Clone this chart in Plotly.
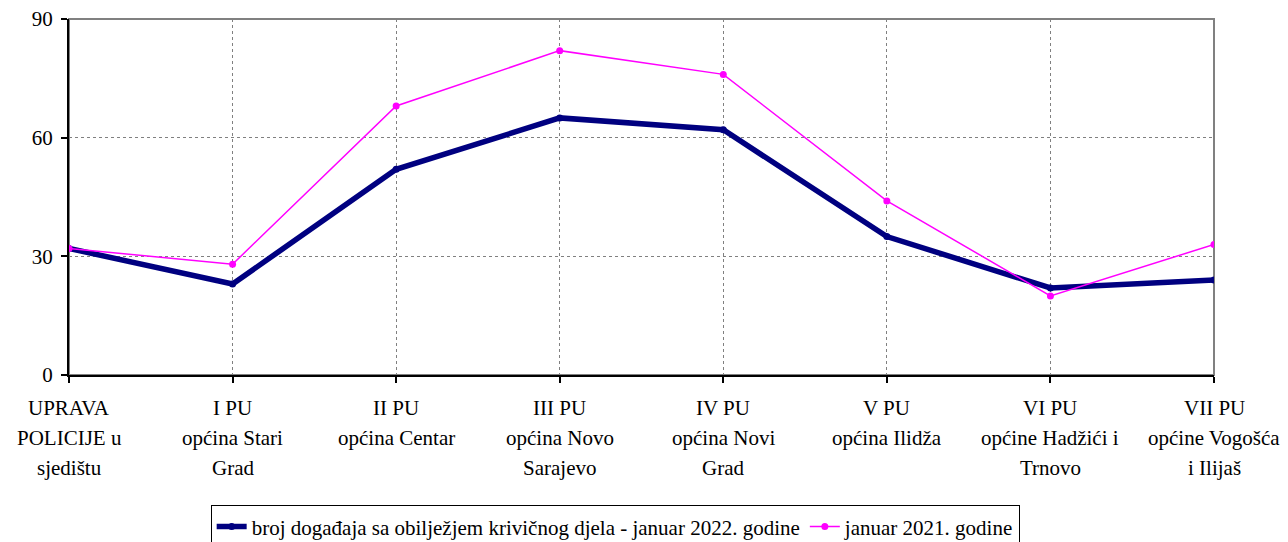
import plotly.graph_objects as go

category_lines = [
    "UPRAVA<br>POLICIJE u<br>sjedištu",
    "I PU<br>općina Stari<br>Grad",
    "II PU<br>općina Centar",
    "III PU<br>općina Novo<br>Sarajevo",
    "IV PU<br>općina Novi<br>Grad",
    "V PU<br>općina Ilidža",
    "VI PU<br>općine Hadžići i<br>Trnovo",
    "VII PU<br>općine Vogošća<br>i Ilijaš",
]
categories = [c.replace("<br>", " ") for c in category_lines]
series_2022 = [32, 23, 52, 65, 62, 35, 22, 24]
series_2021 = [32, 28, 68, 82, 76, 44, 20, 33]
name_2022 = "broj događaja sa obilježjem krivičnog djela - januar 2022. godine"
name_2021 = "januar 2021. godine"
y_ticks = [0, 30, 60, 90]

FONT = "Liberation Serif, Times New Roman, serif"

fig = go.Figure()
fig.add_trace(go.Scatter(
    x=categories, y=series_2022, name=name_2022, mode="lines+markers",
    line=dict(color="#000080", width=5.5), marker=dict(color="#000080", size=7),
))
fig.add_trace(go.Scatter(
    x=categories, y=series_2021, name=name_2021, mode="lines+markers",
    line=dict(color="#FF00FF", width=1.5), marker=dict(color="#FF00FF", size=7),
))

# gray frame (top/right)
fig.add_shape(type="rect", xref="paper", yref="paper", x0=0, x1=1, y0=0, y1=1,
              line=dict(color="#808080", width=2), layer="below")

# multi-line category labels
for cat, lines in zip(categories, category_lines):
    for i, txt in enumerate(lines.split("<br>")):
        fig.add_annotation(x=cat, xref="x", y=0, yref="paper", text=txt,
                           showarrow=False, yanchor="middle", xanchor="center",
                           yshift=-33 - 30 * i,
                           font=dict(family=FONT, size=21, color="black"))

fig.update_layout(
    width=1280, height=560,
    margin=dict(l=61, r=74, t=11, b=193),
    paper_bgcolor="white", plot_bgcolor="white",
    font=dict(family=FONT, size=21, color="black"),
    showlegend=True,
    legend=dict(orientation="h", x=0.477, xanchor="center", y=-0.366, yanchor="top",
                bordercolor="black", borderwidth=1, font=dict(family=FONT, size=21),
                tracegroupgap=0),
)
fig.update_xaxes(
    type="category", range=[0, 7], showticklabels=False, automargin=False,
    showgrid=True, gridcolor="#808080", griddash="dot", gridwidth=1,
    showline=True, linecolor="black", linewidth=2,
    ticks="outside", ticklen=6, tickcolor="black", tickwidth=2,
)
fig.update_yaxes(
    range=[0, 90], tickvals=y_ticks, ticktext=[str(v) for v in y_ticks],
    automargin=False,
    showgrid=True, gridcolor="#808080", griddash="dot", gridwidth=1,
    showline=True, linecolor="black", linewidth=2, zeroline=False,
    ticks="outside", ticklen=6, tickcolor="black", tickwidth=2,
    ticklabelstandoff=4, ticklabeloverflow="allow",
    tickfont=dict(family=FONT, size=21, color="black"),
)

fig.write_html("out.html")
